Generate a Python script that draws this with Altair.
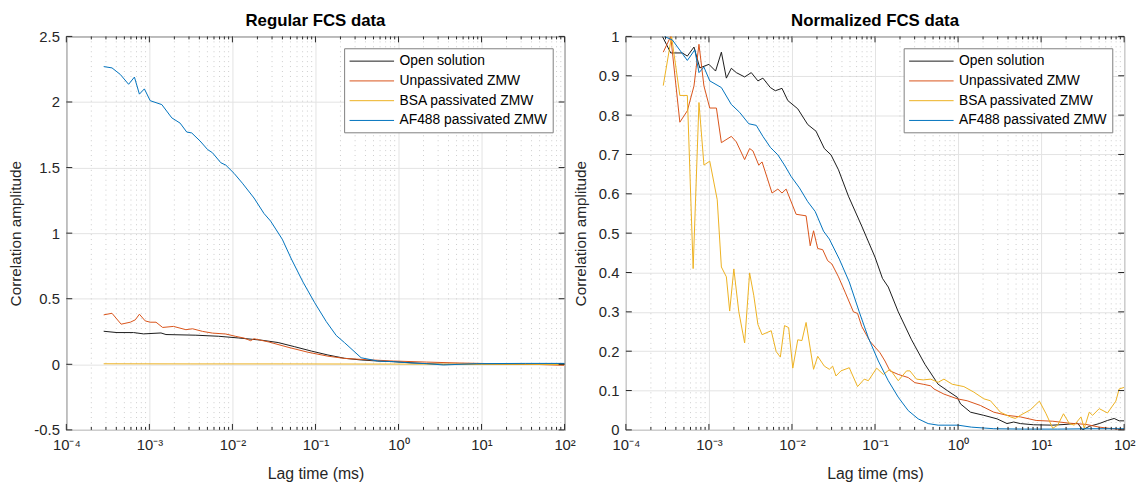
import altair as alt
import pandas as pd

SERIES = ["Open solution", "Unpassivated ZMW", "BSA passivated ZMW", "AF488 passivated ZMW"]
COLORS = ["#1a1a1a", "#D95319", "#EDB120", "#0072BD"]

# ---------------- Regular FCS data (left) : log10(lag / ms) and amplitude ----------------
reg_open_log = [-3.55, -3.39, -3.19, -3.07, -2.86, -2.80, -2.44, -2.17, -1.93, -1.65, -1.45, -1.25,
                -1.05, -0.85, -0.65, -0.45, -0.25, -0.06, 0.15, 0.34, 0.54, 1.0, 1.5, 2.0]
reg_open_val = [0.252, 0.242, 0.242, 0.232, 0.239, 0.227, 0.222, 0.214, 0.201, 0.184, 0.166, 0.134,
                0.101, 0.071, 0.046, 0.033, 0.025, 0.020, 0.012, 0.005, 0.0, 0.002, 0.0, 0.003]

reg_unp_log = [-3.55, -3.45, -3.34, -3.23, -3.17, -3.12, -3.05, -2.99, -2.92, -2.84, -2.71, -2.56,
               -2.48, -2.36, -2.24, -2.08, -1.96, -1.86, -1.78, -1.74, -1.56, -1.33, -1.09, -0.85,
               -0.65, -0.38, -0.06, 0.34, 0.73, 1.13, 1.53, 2.0]
reg_unp_val = [0.377, 0.389, 0.306, 0.321, 0.339, 0.382, 0.331, 0.321, 0.321, 0.281, 0.289, 0.264,
               0.271, 0.251, 0.238, 0.231, 0.213, 0.200, 0.180, 0.195, 0.170, 0.130, 0.092, 0.062,
               0.045, 0.035, 0.025, 0.017, 0.010, 0.005, 0.002, -0.008]

reg_bsa_log = [-3.55, -2.5, -1.5, -0.5, 0.5, 1.5, 2.0]
reg_bsa_val = [0.004, 0.003, 0.003, 0.002, 0.001, 0.0, -0.002]

reg_af_log = [-3.55, -3.45, -3.35, -3.25, -3.18, -3.12, -3.06, -2.99, -2.85, -2.73, -2.63, -2.55,
              -2.49, -2.39, -2.30, -2.24, -2.14, -2.08, -1.98, -1.88, -1.74, -1.62, -1.54, -1.40,
              -1.29, -1.15, -1.01, -0.87, -0.75, -0.65, -0.45, -0.25, -0.05, 0.15, 0.34, 0.54,
              0.94, 1.53, 2.0]
reg_af_val = [2.27, 2.26, 2.21, 2.135, 2.19, 2.06, 2.10, 2.01, 1.98, 1.879, 1.839, 1.771,
              1.764, 1.703, 1.638, 1.613, 1.537, 1.519, 1.456, 1.381, 1.268, 1.150, 1.092, 0.954,
              0.803, 0.627, 0.470, 0.326, 0.220, 0.165, 0.050, 0.025, 0.020, 0.010, 0.005, -0.005,
              0.005, 0.007, 0.007]

# ---------------- Normalized FCS data (right) ----------------
nrm_open_log = [-3.56, -3.46, -3.32, -3.26, -3.18, -3.11, -3.0, -2.92, -2.85, -2.79, -2.73, -2.67,
                -2.57, -2.49, -2.41, -2.35, -2.26, -2.20, -2.12, -2.05, -1.93, -1.81, -1.71, -1.61,
                -1.53, -1.44, -1.32, -1.16, -1.00, -0.91, -0.84, -0.72, -0.56, -0.40, -0.24, -0.13,
                -0.01, 0.03, 0.15, 0.31, 0.47, 0.59, 0.67, 0.75, 0.91, 1.14, 1.30, 1.44, 1.50, 1.58,
                1.70, 1.80, 1.88, 1.94, 2.0]
nrm_open_val = [1.0, 0.958, 0.958, 0.95, 0.973, 0.92, 0.929, 0.912, 0.96, 0.894, 0.919, 0.908,
                0.897, 0.908, 0.887, 0.894, 0.870, 0.862, 0.868, 0.837, 0.816, 0.776, 0.759, 0.715,
                0.699, 0.661, 0.594, 0.518, 0.439, 0.385, 0.363, 0.300, 0.229, 0.167, 0.116, 0.100,
                0.083, 0.066, 0.045, 0.037, 0.028, 0.016, 0.020, 0.016, 0.013, 0.012, 0.014, 0.017,
                0.0, 0.009, 0.016, 0.024, 0.029, 0.023, 0.023]

nrm_unp_log = [-3.55, -3.46, -3.35, -3.26, -3.18, -3.12, -3.06, -2.99, -2.91, -2.85, -2.73, -2.67,
               -2.57, -2.51, -2.47, -2.40, -2.36, -2.24, -2.17, -2.12, -2.07, -1.95, -1.83, -1.78,
               -1.74, -1.69, -1.63, -1.57, -1.52, -1.44, -1.36, -1.26, -1.21, -1.16, -1.06, -0.94,
               -0.88, -0.82, -0.72, -0.60, -0.52, -0.42, -0.33, -0.29, -0.17, -0.01, 0.11, 0.27,
               0.43, 0.59, 0.75, 0.94, 1.14, 1.34, 1.54, 1.70, 1.86, 2.0]
nrm_unp_val = [0.960, 1.0, 0.782, 0.811, 0.874, 0.980, 0.874, 0.818, 0.818, 0.730, 0.746, 0.732,
               0.687, 0.715, 0.709, 0.673, 0.681, 0.602, 0.612, 0.602, 0.612, 0.548, 0.544, 0.468,
               0.506, 0.461, 0.458, 0.430, 0.422, 0.389, 0.350, 0.300, 0.296, 0.263, 0.225, 0.196,
               0.175, 0.150, 0.141, 0.133, 0.120, 0.116, 0.112, 0.104, 0.091, 0.079, 0.074, 0.062,
               0.045, 0.037, 0.033, 0.024, 0.022, 0.017, 0.014, 0.007, 0.003, 0.0]

nrm_bsa_log = [-3.55, -3.45, -3.35, -3.26, -3.19, -3.12, -3.06, -2.99, -2.90, -2.85, -2.79, -2.75,
               -2.70, -2.64, -2.57, -2.51, -2.46, -2.41, -2.36, -2.25, -2.19, -2.14, -2.09, -2.04,
               -1.99, -1.93, -1.88, -1.83, -1.74, -1.69, -1.61, -1.55, -1.51, -1.47, -1.41, -1.31,
               -1.21, -1.13, -1.08, -0.98, -0.90, -0.82, -0.72, -0.62, -0.58, -0.50, -0.42, -0.33,
               -0.24, -0.17, -0.07, 0.07, 0.19, 0.31, 0.39, 0.51, 0.63, 0.69, 0.75, 0.87, 0.98,
               1.06, 1.14, 1.20, 1.27, 1.34, 1.40, 1.48, 1.52, 1.58, 1.62, 1.70, 1.80, 1.90, 1.94, 2.0]
nrm_bsa_val = [0.875, 1.0, 0.85, 0.85, 0.41, 0.832, 0.673, 0.683, 0.585, 0.414, 0.389, 0.302,
               0.409, 0.300, 0.221, 0.399, 0.342, 0.268, 0.242, 0.252, 0.199, 0.185, 0.265, 0.260,
               0.157, 0.229, 0.227, 0.273, 0.154, 0.187, 0.162, 0.154, 0.162, 0.137, 0.150, 0.158,
               0.110, 0.129, 0.125, 0.157, 0.141, 0.154, 0.125, 0.150, 0.150, 0.129, 0.127, 0.129,
               0.121, 0.129, 0.116, 0.110, 0.096, 0.079, 0.074, 0.045, 0.033, 0.029, 0.037, 0.051, 0.073,
               0.041, 0.004, 0.012, 0.041, 0.016, 0.012, 0.033, 0.004, 0.045, 0.037, 0.054, 0.043, 0.073, 0.104, 0.108]

nrm_af_log = [-3.54, -3.44, -3.26, -3.17, -3.12, -3.06, -2.99, -2.85, -2.73, -2.63, -2.52, -2.43,
              -2.35, -2.26, -2.17, -2.09, -2.01, -1.91, -1.81, -1.72, -1.62, -1.55, -1.43, -1.31,
              -1.19, -1.08, -0.96, -0.84, -0.72, -0.60, -0.48, -0.36, -0.24, 0.0, 0.16, 0.43, 0.8,
              1.2, 1.6, 2.0]
nrm_af_val = [1.0, 0.991, 0.939, 0.966, 0.908, 0.922, 0.887, 0.870, 0.827, 0.807, 0.778, 0.774,
              0.746, 0.718, 0.699, 0.673, 0.644, 0.615, 0.580, 0.555, 0.505, 0.485, 0.434, 0.376,
              0.300, 0.234, 0.175, 0.125, 0.083, 0.049, 0.028, 0.016, 0.012, 0.012, 0.007, 0.003,
              0.002, 0.002, 0.003, 0.003]

DECADES = [1e-4, 1e-3, 1e-2, 1e-1, 1e0, 1e1, 1e2]
MINOR = [m * d for d in DECADES[:-1] for m in range(2, 10)]
Y_REG = [-0.5, 0, 0.5, 1, 1.5, 2, 2.5]
Y_NRM = [0, 0.1, 0.2, 0.3, 0.4, 0.5, 0.6, 0.7, 0.8, 0.9, 1]

W, H = 504, 398
FONT = "Liberation Sans"


def frame(parts):
    rows = []
    for name, logs, vals in parts:
        for lg, v in zip(logs, vals):
            rows.append({"series": name, "lag": 10 ** lg, "val": v})
    return pd.DataFrame(rows)


reg_df = frame([(SERIES[0], reg_open_log, reg_open_val), (SERIES[1], reg_unp_log, reg_unp_val),
                (SERIES[2], reg_bsa_log, reg_bsa_val), (SERIES[3], reg_af_log, reg_af_val)])
nrm_df = frame([(SERIES[0], nrm_open_log, nrm_open_val), (SERIES[1], nrm_unp_log, nrm_unp_val),
                (SERIES[2], nrm_bsa_log, nrm_bsa_val), (SERIES[3], nrm_af_log, nrm_af_val)])

XLAB = ("datum.value < 0.0005 ? '10⁻⁴' : datum.value < 0.005 ? '10⁻³' : datum.value < 0.05 ? '10⁻²' : "
        "datum.value < 0.5 ? '10⁻¹' : datum.value < 5 ? '10⁰' : datum.value < 50 ? '10¹' : '10²'")

AXIS_STYLE = dict(labelFont=FONT, labelFontSize=15, labelColor="#262626", titleFont=FONT,
                  titleFontWeight="normal", titleColor="#262626", gridColor="#e3e3e3", gridWidth=1,
                  gridOpacity=1, ticks=False, domain=False, labelFlush=False, grid=True)


def panel(df, title, ydom, yticks):
    xs = alt.Scale(type="log", domain=[1e-4, 1e2], nice=False)
    ys = alt.Scale(domain=ydom, nice=False, zero=False)
    xax = alt.Axis(values=DECADES, labelExpr=XLAB, title="Lag time (ms)", labelPadding=8, titlePadding=13,
                   titleFontSize=16, **AXIS_STYLE)
    yax = alt.Axis(values=yticks, labelExpr="'' + datum.value", title="Correlation amplitude",
                   labelPadding=7, titlePadding=10, titleFontSize=15.5, **AXIS_STYLE)
    X = lambda: alt.X("lag:Q", scale=xs, axis=xax, title="Lag time (ms)")
    Y = lambda: alt.Y("val:Q", scale=ys, axis=yax, title="Correlation amplitude")
    minor_df = pd.DataFrame({"lag": MINOR})
    major_df = pd.DataFrame({"lag": DECADES})
    ytick_df = pd.DataFrame({"val": yticks})

    minor = alt.Chart(minor_df).mark_rule(color="#cccccc", strokeDash=[1, 4], strokeWidth=1).encode(x=X())
    lines = alt.Chart(df).mark_line(strokeWidth=1, clip=True).encode(
        x=X(), y=Y(),
        color=alt.Color("series:N", scale=alt.Scale(domain=SERIES, range=COLORS), sort=SERIES,
                        legend=alt.Legend(title=None, orient="top-right", offset=12,
                                          symbolType="M-3,0L3,0", symbolSize=225, symbolStrokeWidth=1,
                                          symbolOffset=15, labelFontSize=14,
                                          labelFont=FONT, labelColor="#000000", strokeColor="#808080",
                                          fillColor="white", padding=5, rowPadding=5, labelOffset=20,
                                          labelLimit=400)),
        order=alt.Order("lag:Q"),
    )
    tb = alt.Chart(major_df).mark_rule(color="#262626").encode(x=X(), y=alt.value(H), y2=alt.value(H - 6))
    tt = alt.Chart(major_df).mark_rule(color="#262626").encode(x=X(), y=alt.value(0), y2=alt.value(6))
    mb = alt.Chart(minor_df).mark_rule(color="#262626").encode(x=X(), y=alt.value(H), y2=alt.value(H - 3))
    mt = alt.Chart(minor_df).mark_rule(color="#262626").encode(x=X(), y=alt.value(0), y2=alt.value(3))
    yl = alt.Chart(ytick_df).mark_rule(color="#262626").encode(y=Y(), x=alt.value(0), x2=alt.value(6))
    yr = alt.Chart(ytick_df).mark_rule(color="#262626").encode(y=Y(), x=alt.value(W), x2=alt.value(W - 6))
    return alt.layer(minor, lines, tb, tt, mb, mt, yl, yr).properties(
        width=W, height=H,
        title=alt.TitleParams(title, fontSize=17, fontWeight="bold", font=FONT, offset=0, anchor="middle",
                              frame="group"))


left = panel(reg_df, "Regular FCS data", [-0.5, 2.5], Y_REG)
right = panel(nrm_df, "Normalized FCS data", [0, 1], Y_NRM)

chart = alt.HConcatChart(hconcat=[left, right], spacing=62, bounds="flush").resolve_scale(
    color="independent", x="independent", y="independent").resolve_legend(color="independent").properties(
    padding={"left": 0, "top": 0, "right": 0, "bottom": 0}, background="white"
).configure_view(stroke="#262626", strokeWidth=1)

chart.save("out.html", embed_options={"renderer": "svg", "actions": False})
